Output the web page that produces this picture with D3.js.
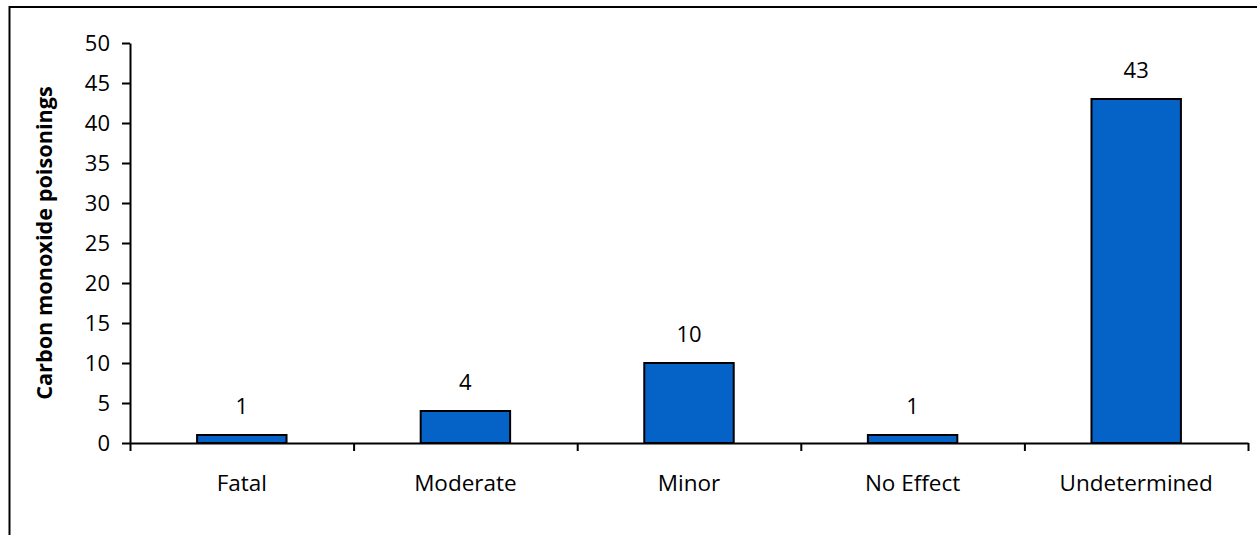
<!DOCTYPE html>
<html>
<head>
<meta charset="utf-8">
<script src="https://cdn.jsdelivr.net/npm/d3@7"></script>
<style>
  html, body { margin: 0; padding: 0; background: #fff; }
  svg text { font-family: "Open Sans", Lato, sans-serif; fill: #000; }
</style>
</head>
<body>
<div class="chart-container"></div>
<script>
const categories = ['Fatal', 'Moderate', 'Minor', 'No Effect', 'Undetermined']
const poisonings = [1, 4, 10, 1, 43]
const yTicks = [0, 5, 10, 15, 20, 25, 30, 35, 40, 45, 50]
const yTitle = 'Carbon monoxide poisonings'

const chartWidth = 1257, chartHeight = 535
const plotLeft = 130, plotRight = 1248, plotTop = 43, plotBottom = 443
const barColor = '#0563C8'

const svg = d3.select('.chart-container').append('svg')
    .attr('width', chartWidth)
    .attr('height', chartHeight)

// chart frame (only top and left edges are in view)
svg.append('path')
    .attr('d', `M9.5 ${chartHeight} V7 H${chartWidth}`)
    .attr('fill', 'none')
    .attr('stroke', '#000')
    .attr('stroke-width', 2)

const x = d3.scaleBand()
    .domain(categories)
    .range([plotLeft, plotRight])
    .paddingInner(0.6)
    .paddingOuter(0.3)

const y = d3.scaleLinear()
    .domain([0, d3.max(yTicks)])
    .range([plotBottom, plotTop])

// bars
svg.append('g').attr('class', 'bars')
    .selectAll('rect').data(poisonings).enter().append('rect')
        .attr('x', (d, i) => x(categories[i]))
        .attr('y', d => y(d))
        .attr('width', x.bandwidth())
        .attr('height', d => y(0) - y(d))
        .attr('fill', barColor)
        .attr('stroke', '#000')
        .attr('stroke-width', 2)

// y axis
const yAxis = svg.append('g')
    .attr('transform', `translate(${plotLeft}, 0)`)
    .call(d3.axisLeft(y).tickValues(yTicks).tickSize(8).tickSizeOuter(0).tickPadding(12))
yAxis.select('.domain').attr('stroke-width', 2)
yAxis.selectAll('.tick line').attr('stroke-width', 2)
yAxis.selectAll('text').style('font-size', '22px').attr('font-family', null)

// x axis: ticks at category boundaries
const xEdges = d3.scaleLinear().domain([0, categories.length]).range([plotLeft, plotRight])
const xAxis = svg.append('g')
    .attr('transform', `translate(0, ${plotBottom})`)
    .call(d3.axisBottom(xEdges).tickValues(d3.range(categories.length + 1)).tickFormat('').tickSize(8).tickSizeOuter(0))
xAxis.select('.domain').attr('stroke-width', 2)
xAxis.selectAll('.tick line').attr('stroke-width', 2)

// category labels
svg.append('g').selectAll('text').data(categories).enter().append('text')
    .attr('x', d => x(d) + x.bandwidth() / 2)
    .attr('y', y(0) + 48)
    .attr('text-anchor', 'middle')
    .style('font-size', '22.5px')
    .text(d => d)

// value labels
svg.append('g').selectAll('text').data(poisonings).enter().append('text')
    .attr('x', (d, i) => x(categories[i]) + x.bandwidth() / 2)
    .attr('y', d => y(d) - 21)
    .attr('text-anchor', 'middle')
    .style('font-size', '22px')
    .text(d => d)

// y axis title
svg.append('text')
    .attr('transform', `translate(52, ${(plotTop + plotBottom) / 2}) rotate(-90)`)
    .attr('text-anchor', 'middle')
    .style('font-size', '21.7px')
    .style('font-weight', 'bold')
    .text(yTitle)
</script>
</body>
</html>
